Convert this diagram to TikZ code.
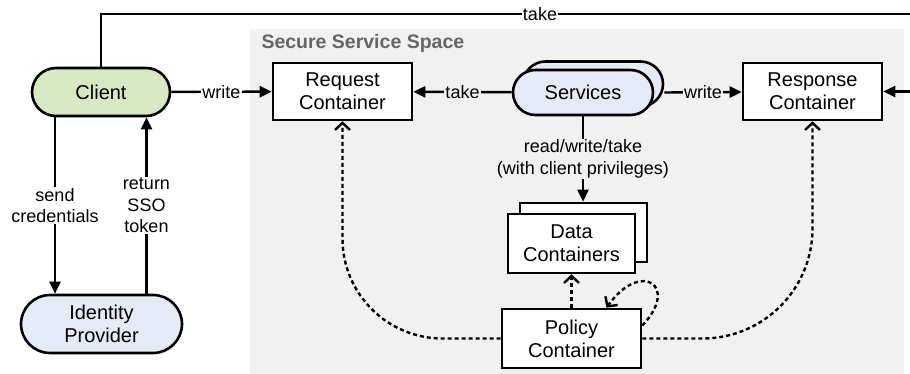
\documentclass[tikz,border=0pt]{standalone}
\usepackage{fontspec}
\setmainfont{Liberation Sans}
\usetikzlibrary{arrows.meta,shapes.misc,positioning}

\definecolor{clientgreen}{HTML}{D9E8C4}
\definecolor{idblue}{HTML}{E4EBF7}
\definecolor{spacegray}{HTML}{F1F1F1}
\definecolor{titlegray}{HTML}{666666}

\tikzset{
  box/.style={draw, line width=2.6pt, fill=white, minimum width=139pt, minimum height=57pt,
    inner sep=0pt, align=center, font=\fontsize{20}{23}\selectfont},
  pill/.style={box, rounded rectangle},
  conn/.style={line width=2.4pt, -{Triangle[length=12pt,width=11pt]}},
  policy/.style={line width=2.4pt, dash pattern=on 4pt off 3pt, -{Straight Barb[length=7pt,width=15pt]}},
  lbl/.style={fill=#1, inner sep=1pt, align=center, font=\fontsize{18}{21.5}\selectfont},
  lbl/.default=white
}

\begin{document}
\begin{tikzpicture}[x=1pt, y=-1pt]
    \useasboundingbox (0,0) rectangle (910,374);

    % secure space
    \fill [spacegray] (250,29) rectangle (904,380);
    \node [anchor=west, text=titlegray, font=\fontsize{19.5}{22}\selectfont\bfseries] (spacetitle) at (258,43) {Secure Service Space};

    % outside
    \node [pill, fill=clientgreen, minimum width=138pt, minimum height=48pt] (client) at (101,92) {Client};
    \node [pill, fill=idblue, minimum width=161pt, minimum height=58pt] (idp) at (101.5,324) {Identity\\Provider};

    % containers and services
    \node [box] (request) at (342.5,91.5) {Request\\Container};
    \node [box] (response) at (812.5,91.5) {Response\\Container};
    \node [pill, fill=idblue, minimum width=140pt, minimum height=45pt] (servicesback) at (593,84) {};
    \node [pill, fill=idblue, minimum width=140pt, minimum height=45pt] (services) at (583,92.5) {Services};
    \node [box, minimum width=127pt, minimum height=59pt] (databack) at (583.5,232.5) {};
    \node [box, minimum width=127pt, minimum height=59pt] (data) at (571.5,243.5) {Data\\Containers};
    \node [box, minimum height=59pt] (policy) at (571.5,338.5) {Policy\\Container};

    % client side
    \coordinate (topright) at (920,14);
    \draw [conn] (client.north) |- node[lbl, pos=0.768]{take} (topright) |- (response.east);
    \draw [conn] (client) -- node[lbl]{write} (request);
    \draw [conn] ([xshift=-46pt]client.south) -- node[lbl]{send\\credentials} ([xshift=-46pt]client.south |- idp.north);
    \draw [conn] ([xshift=45pt]idp.north) -- node[lbl]{return\\SSO\\token} ([xshift=45pt]idp.north |- client.south);

    % service side
    \draw [conn] (services) -- node[lbl=spacegray]{take} (request);
    \draw [conn] (servicesback.east |- services.east) -- node[lbl=spacegray]{write} (response);
    \draw [conn] (services.south) -- node[lbl=spacegray]{read/write/take\\(with client privileges)} (services.south |- databack.north);

    % policy checks
    \draw [policy] (policy) -- (data);
    \draw [policy, rounded corners=100pt] (policy.west) -| (request.south);
    \draw [policy, rounded corners=110pt] (policy.east) -| (response.south);
    \draw [policy] ([yshift=13pt]policy.east) .. controls +(38,-40) and +(34,-48) .. ([xshift=35pt]policy.north);
\end{tikzpicture}
\end{document}
